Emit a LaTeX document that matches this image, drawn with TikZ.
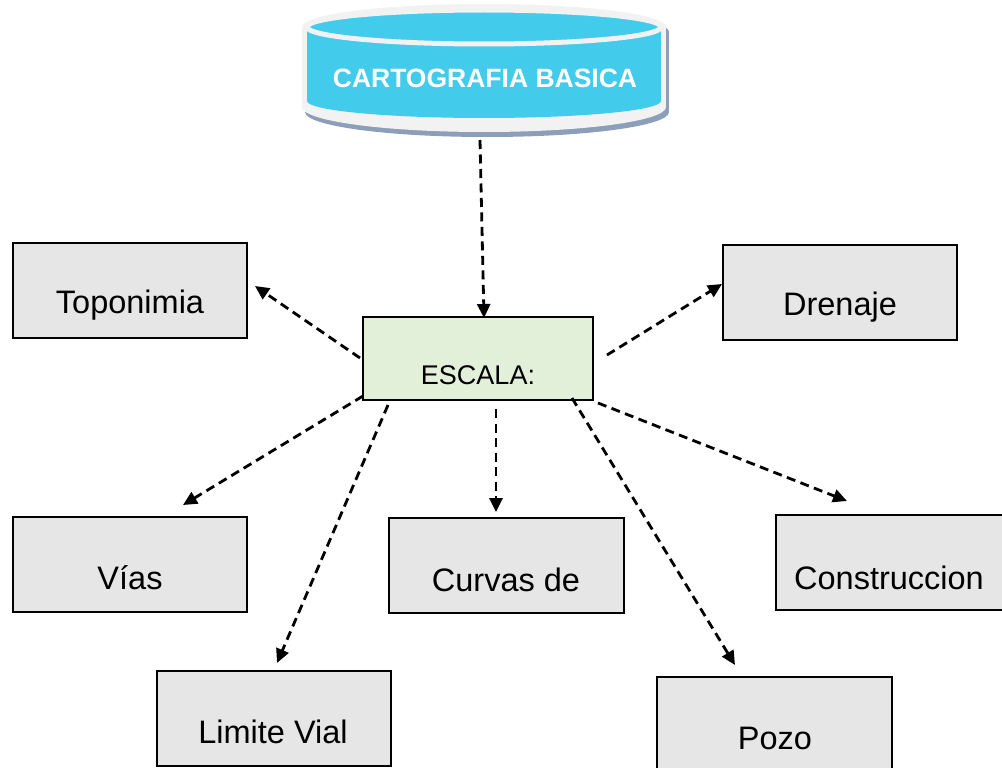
\documentclass[tikz,border=0pt]{standalone}
\usepackage{fontspec}
\setmainfont{Liberation Sans}
\usetikzlibrary{arrows.meta}
\definecolor{cyanfill}{RGB}{67,203,236}
\definecolor{rimwhite}{RGB}{242,242,242}
\definecolor{shadowc}{RGB}{140,158,184}
\definecolor{boxgray}{RGB}{230,230,230}
\definecolor{greenfill}{RGB}{226,239,217}
\begin{document}
\begin{tikzpicture}[x=1pt,y=-1pt,
  box/.style={draw=black, line width=2pt, fill=boxgray, minimum width=234pt, minimum height=95pt, inner sep=0pt},
  lbl/.style={font=\fontsize{32.5}{38}\selectfont, inner sep=0pt},
  arr/.style={draw=black, line width=2.8pt, dash pattern=on 9pt off 5.5pt, -{Triangle[length=14pt,width=13pt]}}]
\useasboundingbox (0,0) rectangle (1002,768);
% cylinder
\begin{scope}[shift={(3,5)}]
  \fill[shadowc] (484,27) ellipse [x radius=182, y radius=23];
  \fill[shadowc] (302,27) rectangle (666,107);
  \fill[shadowc] (484,107) ellipse [x radius=182, y radius=25];
\end{scope}
\fill[rimwhite] (484,27) ellipse [x radius=182, y radius=23];
\fill[rimwhite] (302,27) rectangle (666,107);
\fill[rimwhite] (484,107) ellipse [x radius=182, y radius=25];
\fill[cyanfill] (307,27) rectangle (661,101);
\fill[cyanfill] (484,101) ellipse [x radius=177, y radius=17];
\filldraw[fill=cyanfill, draw=rimwhite, line width=5pt] (484,27) ellipse [x radius=177, y radius=17];
\node[text=white, font=\bfseries\fontsize{26.5}{30}\selectfont, inner sep=0pt] (carto) at (485,78) {CARTOGRAFIA BASICA};
% boxes
\node[box] (topo) at (130,290.5) {};
\node[lbl] (topoT) at (130,305) {Toponimia};
\node[box] (dren) at (840,292.5) {};
\node[lbl] (drenT) at (840,307) {Drenaje};
\node[box, fill=greenfill, minimum width=230pt, minimum height=83pt] (esc) at (478,358.5) {};
\node[inner sep=0pt, font=\fontsize{27}{31}\selectfont] (escT) at (478,375) {ESCALA:};
\node[box] (vias) at (130,564.5) {};
\node[lbl] (viasT) at (130,578) {Vías};
\node[box, minimum width=235pt] (curv) at (506.5,565.5) {};
\node[lbl] (curvT) at (506,580) {Curvas de};
\node[box] (cons) at (893,562) {};
\node[lbl] (consT) at (889,578) {Construccion};
\node[box] (lim) at (274,718) {};
\node[lbl] (limT) at (273,732) {Limite Vial};
\node[box, minimum width=235pt] (pozo) at (774.5,724.5) {};
\node[lbl] (pozoT) at (775,738) {Pozo};
% connector ends
\coordinate (c0) at (480,140);  \coordinate (e0) at (484,318);
\coordinate (s1) at (360,358);  \coordinate (e1) at (255,286);
\coordinate (s2) at (607,355);  \coordinate (e2) at (722,284);
\coordinate (s3) at (363,396);  \coordinate (e3) at (183,505);
\coordinate (s4) at (388,405);  \coordinate (e4) at (277,663);
\coordinate (s5) at (496,409);  \coordinate (e5) at (496,512);
\coordinate (s6) at (572,398);  \coordinate (e6) at (735,665);
\coordinate (s7) at (598,403);  \coordinate (e7) at (847,501);
\draw[arr] (c0) -- (e0);
\draw[arr] (s1) -- (e1);
\draw[arr] (s2) -- (e2);
\draw[arr] (s3) -- (e3);
\draw[arr] (s4) -- (e4);
\draw[arr] (s5) -- (e5);
\draw[arr] (s6) -- (e6);
\draw[arr] (s7) -- (e7);
\end{tikzpicture}
\end{document}
